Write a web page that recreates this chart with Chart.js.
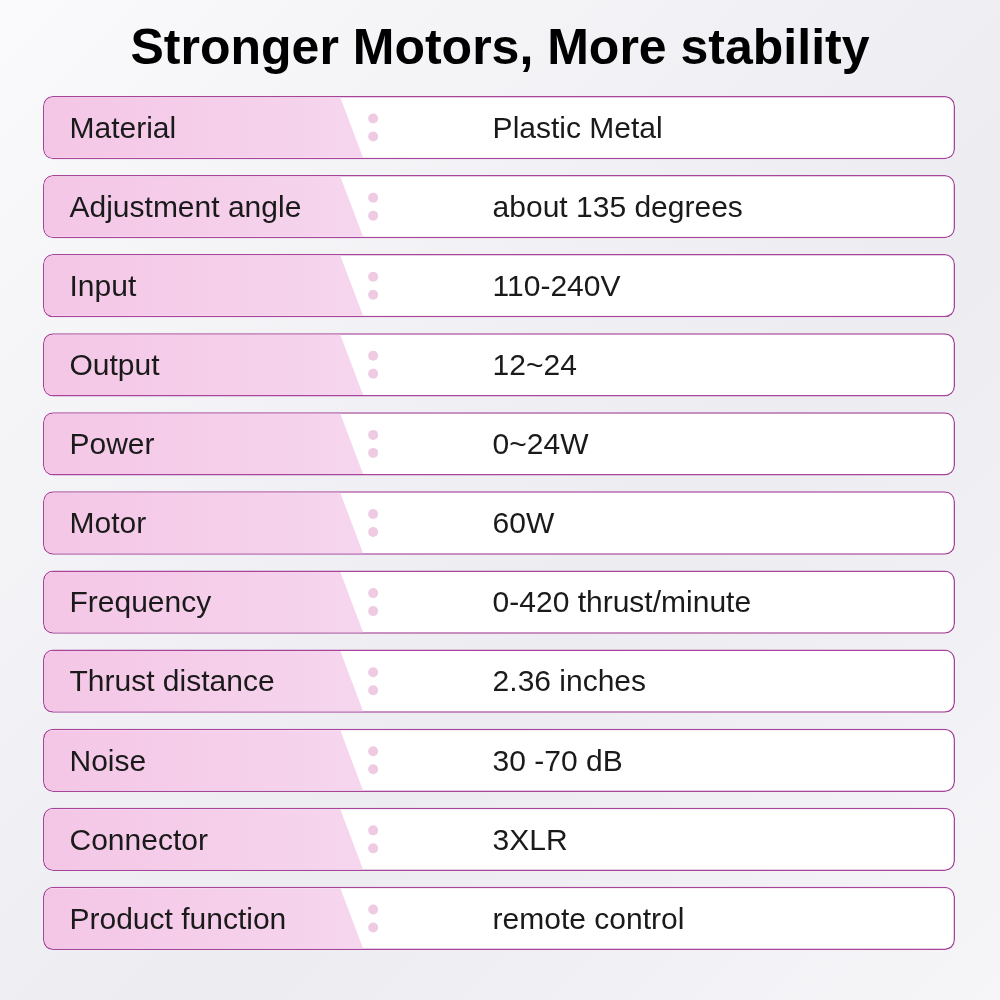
<!DOCTYPE html>
<html><head><meta charset="utf-8">
<script src="https://cdn.jsdelivr.net/npm/chart.js@4"></script>
<style>html,body{margin:0;padding:0;background:#f3f3f6}#w{width:1000px;height:1000px;background:linear-gradient(135deg,#fafafc,#ececf1 60%,#f6f6f9)}</style>
</head><body><div id="w"><canvas id="c" width="1000" height="1000"></canvas></div>
<script>
const titleText = "Stronger Motors, More stability";
const specNames = ["Material","Adjustment angle","Input","Output","Power","Motor","Frequency","Thrust distance","Noise","Connector","Product function"];
const specValues = ["Plastic Metal","about 135 degrees","110-240V","12~24","0~24W","60W","0-420 thrust/minute","2.36 inches","30 -70 dB","3XLR","remote control"];
const rowSpan = specNames.map(() => [0, 100]);

const tablePlugin = {
  id: 'tablePlugin',
  beforeDatasetsDraw(chart) {
    const ctx = chart.ctx;
    ctx.save();
    ctx.fillStyle = '#000';
    ctx.font = 'bold 50px "Liberation Sans", Arial, sans-serif';
    ctx.textAlign = 'center'; ctx.textBaseline = 'middle';
    ctx.fillText(titleText, 500, 50);
    ctx.restore();
  },
  afterDatasetsDraw(chart) {
    const ctx = chart.ctx;
    const meta = chart.getDatasetMeta(0);
    const xs = chart.scales.x;
    meta.data.forEach((bar, i) => {
      const p = bar.getProps(['x','y','base','height'], true);
      const top = p.y - p.height/2 + 1.5, bot = p.y + p.height/2 - 1.5;
      const left = p.base + 1.5;
      const sx1 = xs.getPixelForValue(32.6), sx2 = xs.getPixelForValue(35.1);
      ctx.save();
      ctx.beginPath();
      ctx.moveTo(left + 9, top);
      ctx.lineTo(sx1, top); ctx.lineTo(sx2, bot);
      ctx.lineTo(left + 9, bot);
      ctx.quadraticCurveTo(left, bot, left, bot - 9);
      ctx.lineTo(left, top + 9);
      ctx.quadraticCurveTo(left, top, left + 9, top);
      const g = ctx.createLinearGradient(left, 0, sx2, 0);
      g.addColorStop(0, '#f4c6e6'); g.addColorStop(1, '#f6d6ee');
      ctx.fillStyle = g; ctx.fill();
      const dx = xs.getPixelForValue(36.2);
      ctx.fillStyle = '#efcbe3';
      [-9, 9].forEach(o => { ctx.beginPath(); ctx.arc(dx, p.y + o, 5, 0, Math.PI*2); ctx.fill(); });
      ctx.fillStyle = '#1a1a1a';
      ctx.font = '30px "Liberation Sans", Arial, sans-serif';
      ctx.textAlign = 'left'; ctx.textBaseline = 'middle';
      ctx.fillText(specNames[i], left + 25, p.y + 2);
      ctx.fillText(specValues[i], xs.getPixelForValue(49.3), p.y + 2);
      ctx.restore();
    });
  }
};

new Chart(document.getElementById('c'), {
  type: 'bar',
  data: { labels: specNames, datasets: [{ data: rowSpan, backgroundColor: '#ffffff', borderColor: '#a8449a', borderWidth: 1.5, borderRadius: 10, borderSkipped: false, barPercentage: 0.8, categoryPercentage: 1 }] },
  options: {
    indexAxis: 'y', responsive: false, animation: false,
    layout: { padding: { left: 43, right: 45, top: 88, bottom: 42 } },
    plugins: { legend: { display: false }, tooltip: { enabled: false } },
    scales: { x: { display: false, min: 0, max: 100 }, y: { display: false } }
  },
  plugins: [tablePlugin]
});
</script></body></html>
